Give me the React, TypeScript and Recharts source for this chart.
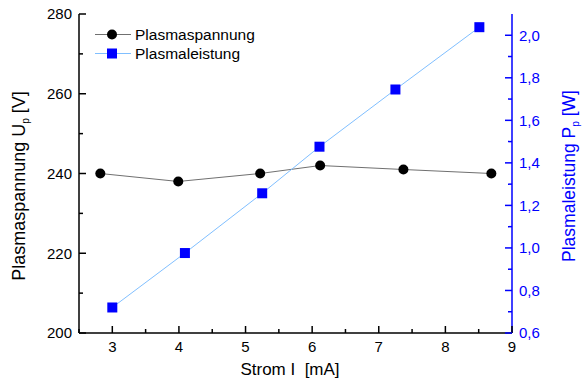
import React from 'react';
import { LineChart, Line, XAxis, YAxis, Legend, Label } from 'recharts';

const spannungX = [2.82, 3.99, 5.22, 6.12, 7.37, 8.69];
const spannungY = [240, 238, 240, 242, 241, 240];
const leistungX = [3.0, 4.09, 5.25, 6.11, 7.25, 8.51];
const leistungY = [0.72, 0.976, 1.257, 1.476, 1.745, 2.038];

const xTicks = [2.5, 3, 3.5, 4, 4.5, 5, 5.5, 6, 6.5, 7, 7.5, 8, 8.5, 9];
const xLabelTicks = [3, 4, 5, 6, 7, 8, 9];
const leftTicks = [200, 210, 220, 230, 240, 250, 260, 270, 280];
const leftLabelTicks = [200, 220, 240, 260, 280];
const rightTicks = [0.6, 0.7, 0.8, 0.9, 1.0, 1.1, 1.2, 1.3, 1.4, 1.5, 1.6, 1.7, 1.8, 1.9, 2.0, 2.1];
const rightLabelTicks = [0.6, 0.8, 1.0, 1.2, 1.4, 1.6, 1.8, 2.0];

const spannungData = spannungX.map((x, i) => ({ x, u: spannungY[i] }));
const leistungData = leistungX.map((x, i) => ({ x, p: leistungY[i] }));

const FONT = 'Liberation Sans, Arial, sans-serif';
const BLUE = '#0000ff';
const LIGHTBLUE = '#80bfff';
const GREY = '#707070';
const M = 8;
const MAJ = 7;
const MIN = 4;

const isLabel = (v: number, list: number[]) => list.some((t) => Math.abs(t - v) < 1e-6);

const BottomTick = (props: any) => {
  const { x, y, payload } = props;
  const v = payload.value;
  const major = isLabel(v, xLabelTicks);
  const ay = y - M;
  return (
    <g>
      <line x1={x} y1={ay} x2={x} y2={ay - (major ? MAJ : MIN)} stroke="#000" strokeWidth={1.5} />
      {major && (
        <text x={x} y={y} dy="0.71em" textAnchor="middle" fontSize={15} fontFamily={FONT} fill="#000">
          {v}
        </text>
      )}
    </g>
  );
};

const TopTick = (props: any) => {
  const { x, y, payload } = props;
  const v = payload.value;
  const major = isLabel(v, xLabelTicks);
  const ay = y;
  return <line x1={x} y1={ay} x2={x} y2={ay + (major ? MAJ : MIN)} stroke="#000" strokeWidth={1.5} />;
};

const LeftTick = (props: any) => {
  const { x, y, payload } = props;
  const v = payload.value;
  const major = isLabel(v, leftLabelTicks);
  const ax = x + 7;
  return (
    <g>
      <line x1={ax} y1={y} x2={ax + (major ? MAJ : MIN)} y2={y} stroke="#000" strokeWidth={1.5} />
      {major && (
        <text x={x} y={y} dy="0.355em" textAnchor="end" fontSize={15} fontFamily={FONT} fill="#000">
          {v}
        </text>
      )}
    </g>
  );
};

const RightTick = (props: any) => {
  const { x, y, payload } = props;
  const v = payload.value;
  const major = isLabel(v, rightLabelTicks);
  const ax = x - 7;
  if (Math.abs(v - 2.1) < 1e-6) return <g />;
  return (
    <g>
      <line x1={ax} y1={y} x2={ax - (major ? MAJ : MIN)} y2={y} stroke={BLUE} strokeWidth={1.5} />
      {major && (
        <text x={x} y={y} dy="0.355em" textAnchor="start" fontSize={15} fontFamily={FONT} fill={BLUE}>
          {v.toFixed(1).replace('.', ',')}
        </text>
      )}
    </g>
  );
};

const SquareDot = (props: any) => {
  const { cx, cy } = props;
  if (cx == null || cy == null) return null;
  return <rect x={cx - 5} y={cy - 5} width={10} height={10} fill={BLUE} />;
};

const CircleDot = (props: any) => {
  const { cx, cy } = props;
  if (cx == null || cy == null) return null;
  return <circle cx={cx} cy={cy} r={5} fill="#000" />;
};

const LegendContent = () => (
  <div style={{ fontFamily: FONT, fontSize: 15.5, lineHeight: '19px' }}>
    <div style={{ display: 'flex', alignItems: 'center', height: 19 }}>
      <svg width={36} height={19}>
        <line x1={0} y1={9.5} x2={36} y2={9.5} stroke={GREY} strokeWidth={1} />
        <circle cx={17} cy={9.5} r={5} fill="#000" />
      </svg>
      <span style={{ marginLeft: 4, color: '#000' }}>Plasmaspannung</span>
    </div>
    <div style={{ display: 'flex', alignItems: 'center', height: 19 }}>
      <svg width={36} height={19}>
        <line x1={0} y1={9.5} x2={36} y2={9.5} stroke={LIGHTBLUE} strokeWidth={1} />
        <rect x={12} y={4.5} width={10} height={10} fill={BLUE} />
      </svg>
      <span style={{ marginLeft: 4, color: '#000' }}>Plasmaleistung</span>
    </div>
  </div>
);

export default function App() {
  return (
    <div style={{ position: 'absolute', left: 0, top: 0, background: '#fff' }}>
      <LineChart width={585} height={382} margin={{ top: 14, right: 0, bottom: 0, left: 0 }}>
        <XAxis
          xAxisId="b"
          type="number"
          dataKey="x"
          domain={[2.5, 9]}
          ticks={xTicks}
          interval={0}
          allowDataOverflow
          height={49}
          tickSize={0}
          tickMargin={M}
          tickLine={false}
          axisLine={{ stroke: '#000', strokeWidth: 1.5 }}
          tick={<BottomTick />}
        >
          <Label
            content={(p: any) => {
              const vb = p.viewBox;
              return (
                <text x={290} y={vb.y + 42} textAnchor="middle" fontSize={17} fontFamily={FONT} fill="#000">
                  {'Strom I\u00a0\u00a0[mA]'}
                </text>
              );
            }}
          />
        </XAxis>
        <XAxis
          xAxisId="t"
          orientation="top"
          type="number"
          dataKey="x"
          domain={[2.5, 9]}
          ticks={xTicks}
          interval={0}
          allowDataOverflow
          height={0}
          tickSize={0}
          tickMargin={0}
          tickLine={false}
          axisLine={{ stroke: '#000', strokeWidth: 1.5 }}
          tick={<TopTick />}
        />
        <YAxis
          yAxisId="l"
          domain={[200, 280]}
          ticks={leftTicks}
          interval={0}
          allowDataOverflow
          width={79}
          tickSize={0}
          tickMargin={7}
          tickLine={false}
          axisLine={{ stroke: '#000', strokeWidth: 1.5 }}
          tick={<LeftTick />}
        >
          <Label
            content={() => (
              <text
                x={25}
                y={186}
                transform="rotate(-90, 25, 186)"
                textAnchor="middle"
                fontSize={18}
                fontFamily={FONT}
                fill="#000"
              >
                {'Plasmaspannung U'}
                <tspan fontSize={10} dy={4}>p</tspan>
                <tspan dy={-4}>{'\u00a0[V]'}</tspan>
              </text>
            )}
          />
        </YAxis>
        <YAxis
          yAxisId="r"
          orientation="right"
          domain={[0.6, 2.1]}
          ticks={rightTicks}
          interval={0}
          allowDataOverflow
          width={73}
          tickSize={0}
          tickMargin={7}
          tickLine={false}
          axisLine={{ stroke: BLUE, strokeWidth: 1.5 }}
          tick={<RightTick />}
        >
          <Label
            content={() => (
              <text
                x={575}
                y={176}
                transform="rotate(-90, 575, 176)"
                textAnchor="middle"
                fontSize={17.5}
                fontFamily={FONT}
                fill={BLUE}
              >
                {'Plasmaleistung P'}
                <tspan fontSize={10} dy={4}>p</tspan>
                <tspan dy={-4}>{'\u00a0[W]'}</tspan>
              </text>
            )}
          />
        </YAxis>
        <Legend
          layout="vertical"
          align="center"
          verticalAlign="middle"
          wrapperStyle={{ left: 95, top: 25, width: 'auto' }}
          content={<LegendContent />}
        />
        <Line
          xAxisId="b"
          yAxisId="l"
          data={spannungData}
          dataKey="u"
          name="Plasmaspannung"
          stroke={GREY}
          strokeWidth={1}
          dot={<CircleDot />}
          activeDot={false}
          isAnimationActive={false}
        />
        <Line
          xAxisId="b"
          yAxisId="r"
          data={leistungData}
          dataKey="p"
          name="Plasmaleistung"
          stroke={LIGHTBLUE}
          strokeWidth={1}
          dot={<SquareDot />}
          activeDot={false}
          isAnimationActive={false}
        />
      </LineChart>
    </div>
  );
}
